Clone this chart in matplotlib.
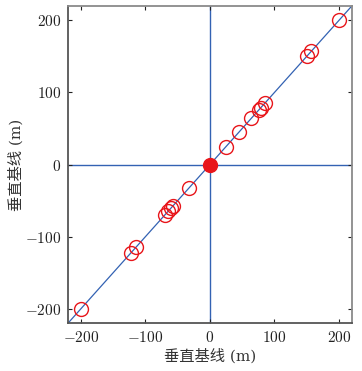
import numpy as np
import matplotlib
matplotlib.use("Agg")
import matplotlib.pyplot as plt
from matplotlib.ticker import FuncFormatter

plt.rcParams['font.family'] = ['DejaVu Serif', 'Noto Sans CJK SC']
plt.rcParams['mathtext.fontset'] = 'cm'

# ── data ──────────────────────────────────────────
pts_x = [200, 151, 157, 86, 76, 79, 64, 45, 25, -32, -57, -60, -65, -70, -115, -123, -200]
pts_y = [200, 151, 157, 86, 76, 79, 64, 45, 25, -32, -57, -60, -65, -70, -115, -123, -200]
ref_x = [-220, 220]
ref_y = [-220, 220]
origin = [0, 0]
ticks = [-200, -100, 0, 100, 200]

blue = '#3362b3'
red = '#e8161b'

fig = plt.figure(figsize=(3.62, 3.71), dpi=100)
ax = fig.add_axes([0.188, 0.129, 0.784, 0.855])

ax.axhline(0, color=blue, lw=1.0, zorder=1)
ax.axvline(0, color=blue, lw=1.0, zorder=1)
ax.plot(ref_x, ref_y, color=blue, lw=0.9, zorder=2)
ax.plot(pts_x, pts_y, 'o', ms=10, mfc='none', mec=red, mew=1.0, zorder=3)
ax.plot(origin[0], origin[1], 'o', ms=10, color=red, zorder=4)

ax.set_xlim(-220, 220)
ax.set_ylim(-220, 220)
ax.set_xticks(ticks)
ax.set_yticks(ticks)
fmt = FuncFormatter(lambda v, p: r'$%d$' % v)
ax.xaxis.set_major_formatter(fmt)
ax.yaxis.set_major_formatter(fmt)
ax.tick_params(direction='in', top=True, right=True, length=3,
               labelsize=11, colors='#222222', pad=5)

for s in ax.spines.values():
    s.set_color('#555555')
    s.set_linewidth(1.3)
ax.spines['top'].set_color('#8a8a8a')
ax.spines['right'].set_color('#8a8a8a')

ax.set_xlabel('垂直基线 (m)', fontsize=11, color='#333333', labelpad=2)
ax.set_ylabel('垂直基线 (m)', fontsize=11, color='#333333', labelpad=1)

fig.savefig('out.png', dpi=100)
